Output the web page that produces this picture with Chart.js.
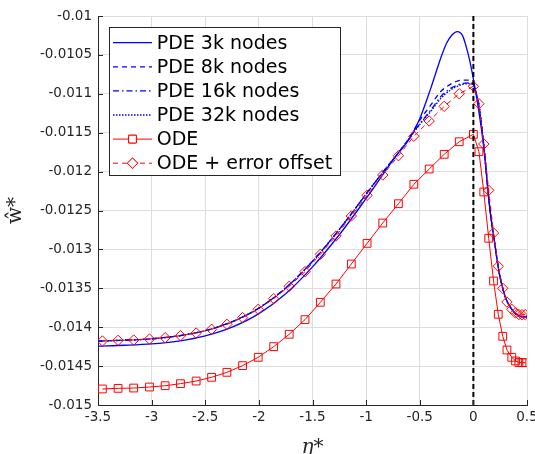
<!DOCTYPE html>
<html>
<head>
<meta charset="utf-8">
<script src="https://cdn.jsdelivr.net/npm/chart.js@4.4.1/dist/chart.umd.min.js"></script>
<style>
  html, body { margin: 0; padding: 0; background: #fff; }
</style>
</head>
<body>
<canvas id="plot" width="535" height="454"></canvas>
<script>
// axis ticks
const xTicks = [-3.5, -3, -2.5, -2, -1.5, -1, -0.5, 0, 0.5];
const xTickLabels = ["-3.5", "-3", "-2.5", "-2", "-1.5", "-1", "-0.5", "0", "0.5"];
const yTicks = [-0.015, -0.0145, -0.014, -0.0135, -0.013, -0.0125, -0.012, -0.0115, -0.011, -0.0105, -0.01];
const yTickLabels = ["-0.015", "-0.0145", "-0.014", "-0.0135", "-0.013", "-0.0125", "-0.012", "-0.0115", "-0.011", "-0.0105", "-0.01"];

// PDE solutions (eta grid shared by all four meshes)
const pdeEta = [-3.5, -3.25, -3, -2.75, -2.5, -2.25, -2, -1.75, -1.5, -1.25, -1, -0.9, -0.8, -0.7, -0.6,
  -0.5, -0.4, -0.3, -0.25, -0.2, -0.15, -0.1, -0.05, -0.025, 0, 0.025, 0.05, 0.075, 0.1, 0.125,
  0.15, 0.175, 0.2, 0.225, 0.25, 0.3, 0.35, 0.4, 0.45, 0.5];
const pde3k = [-0.014242, -0.014232, -0.014215, -0.014178, -0.014112, -0.014000, -0.013826, -0.013570,
  -0.013225, -0.012812, -0.012345, -0.012150, -0.011950, -0.011760, -0.011585, -0.011320, -0.010940,
  -0.010524, -0.010350, -0.010244, -0.010200, -0.010255, -0.010480, -0.010630, -0.010810, -0.011000,
  -0.011215, -0.011455, -0.011735, -0.012085, -0.012435, -0.012700, -0.012928, -0.013170, -0.013364,
  -0.013620, -0.013755, -0.013835, -0.013863, -0.013866];
const pde8k = [-0.014178, -0.014167, -0.014149, -0.014111, -0.014044, -0.013930, -0.013753, -0.013496,
  -0.013153, -0.012743, -0.012289, -0.012108, -0.011932, -0.011760, -0.011570, -0.011340, -0.011150,
  -0.010964, -0.010910, -0.010866, -0.010836, -0.010823, -0.010825, -0.010845, -0.010880, -0.010990,
  -0.011130, -0.011390, -0.011700, -0.012070, -0.012430, -0.012700, -0.012928, -0.013170, -0.013364,
  -0.013620, -0.013755, -0.013835, -0.013863, -0.013866];
const pde16k = [-0.014178, -0.014167, -0.014149, -0.014111, -0.014044, -0.013930, -0.013753, -0.013496,
  -0.013153, -0.012743, -0.012289, -0.012108, -0.011932, -0.011760, -0.011578, -0.011385, -0.011215,
  -0.011030, -0.010968, -0.010920, -0.010890, -0.010866, -0.010860, -0.010865, -0.010885, -0.010990,
  -0.011130, -0.011390, -0.011700, -0.012070, -0.012430, -0.012700, -0.012928, -0.013170, -0.013364,
  -0.013620, -0.013755, -0.013835, -0.013863, -0.013866];
const pde32k = [-0.014178, -0.014167, -0.014149, -0.014111, -0.014044, -0.013930, -0.013753, -0.013496,
  -0.013153, -0.012743, -0.012289, -0.012108, -0.011932, -0.011760, -0.011580, -0.011395, -0.011230,
  -0.011054, -0.010990, -0.010940, -0.010905, -0.010880, -0.010870, -0.010872, -0.010887, -0.010990,
  -0.011130, -0.011390, -0.011700, -0.012070, -0.012430, -0.012700, -0.012928, -0.013170, -0.013364,
  -0.013620, -0.013755, -0.013835, -0.013863, -0.013866];

// ODE solution (markers) and ODE + error offset
const odeEta = [-3.459, -3.313, -3.167, -3.020, -2.874, -2.731, -2.585, -2.441, -2.298, -2.152, -2.006,
  -1.862, -1.717, -1.570, -1.427, -1.281, -1.138, -0.991, -0.845, -0.699, -0.555, -0.412, -0.272,
  -0.132, 0, 0.052, 0.097, 0.143, 0.188, 0.232, 0.274, 0.313, 0.358, 0.393, 0.424, 0.453, 0.484];
const odeW = [-0.014794, -0.014786, -0.014782, -0.014769, -0.014752, -0.014726, -0.014692, -0.014644,
  -0.014580, -0.014494, -0.014387, -0.014250, -0.014091, -0.013903, -0.013680, -0.013445, -0.013188,
  -0.012922, -0.012661, -0.012413, -0.012163, -0.011967, -0.011778, -0.011616, -0.011521, -0.011744,
  -0.012262, -0.012857, -0.013406, -0.013834, -0.014117, -0.014293, -0.014387, -0.014434, -0.014454,
  -0.014456, -0.014456];
const odeOffsetW = [-0.014177, -0.014169, -0.014165, -0.014152, -0.014135, -0.014109, -0.014075, -0.014027,
  -0.013963, -0.013877, -0.013770, -0.013633, -0.013474, -0.013286, -0.013063, -0.012828, -0.012571,
  -0.012305, -0.012044, -0.011796, -0.011546, -0.011350, -0.011161, -0.010999, -0.010904, -0.011127,
  -0.011645, -0.012240, -0.012789, -0.013217, -0.013500, -0.013676, -0.013770, -0.013817, -0.013837,
  -0.013839, -0.013839];

// vertical reference line at eta = 0
const zeroEta = [0, 0];
const zeroW = [-0.015, -0.01];

const pts = (xs, ys) => ys.map((y, i) => ({ x: xs[i], y: y }));

const BLUE = "#0000ff";
const RED = "#ff0000";
const AXIS = "#262626";

// legend drawn inside the axes, MATLAB style
const boxLegend = {
  id: "boxLegend",
  afterDraw(chart) {
    const ctx = chart.ctx;
    const items = chart.data.datasets.filter(d => d.label);
    const x0 = 109.5, y0 = 27.5, w = 231, h = 148;
    ctx.save();
    ctx.fillStyle = "#fff";
    ctx.fillRect(x0, y0, w, h);
    ctx.strokeStyle = AXIS;
    ctx.lineWidth = 1;
    ctx.strokeRect(x0, y0, w, h);
    items.forEach((d, i) => {
      const y = 42.7 + i * 24.1;
      ctx.strokeStyle = d.borderColor;
      ctx.lineWidth = d.borderWidth;
      ctx.setLineDash(d.borderDash || []);
      ctx.beginPath();
      ctx.moveTo(113, y);
      ctx.lineTo(152, y);
      ctx.stroke();
      ctx.setLineDash([]);
      if (d.pointRadius) {
        ctx.fillStyle = "#fff";
        Chart.helpers.drawPoint(ctx, {
          pointStyle: d.pointStyle, radius: d.pointRadius, rotation: 0, borderWidth: 1
        }, 132.5, y);
        ctx.fill();
        ctx.lineWidth = 1;
        ctx.strokeStyle = d.borderColor;
        ctx.stroke();
      }
      ctx.fillStyle = "#000";
      ctx.font = '19px "DejaVu Sans"';
      ctx.textBaseline = "middle";
      ctx.textAlign = "left";
      ctx.fillText(d.label, 156.7, y + 1);
    });
    ctx.restore();
  }
};

// inward tick marks on the left and bottom axes
const innerTicks = {
  id: "innerTicks",
  afterDraw(chart) {
    const { ctx, chartArea, scales } = chart;
    ctx.save();
    ctx.strokeStyle = AXIS;
    ctx.lineWidth = 1;
    ctx.beginPath();
    xTicks.forEach(v => {
      const px = Math.round(scales.x.getPixelForValue(v)) + 0.5;
      ctx.moveTo(px, chartArea.bottom);
      ctx.lineTo(px, chartArea.bottom - 5);
    });
    yTicks.forEach(v => {
      const py = Math.round(scales.y.getPixelForValue(v)) + 0.5;
      ctx.moveTo(chartArea.left, py);
      ctx.lineTo(chartArea.left + 5, py);
    });
    ctx.stroke();
    ctx.restore();
  }
};

const tickFont = { family: "DejaVu Sans", size: 13.5 };

new Chart(document.getElementById("plot").getContext("2d"), {
  type: "line",
  data: {
    datasets: [
      { label: "PDE 3k nodes", data: pts(pdeEta, pde3k), borderColor: BLUE, borderWidth: 1.3,
        pointRadius: 0, cubicInterpolationMode: "monotone", order: 6 },
      { label: "PDE 8k nodes", data: pts(pdeEta, pde8k), borderColor: BLUE, borderWidth: 1.3,
        borderDash: [5, 4], pointRadius: 0, cubicInterpolationMode: "monotone", order: 5 },
      { label: "PDE 16k nodes", data: pts(pdeEta, pde16k), borderColor: BLUE, borderWidth: 1.3,
        borderDash: [6, 3, 1.5, 3], pointRadius: 0, cubicInterpolationMode: "monotone", order: 4 },
      { label: "PDE 32k nodes", data: pts(pdeEta, pde32k), borderColor: BLUE, borderWidth: 1.3,
        borderDash: [1.5, 1.5], pointRadius: 0, cubicInterpolationMode: "monotone", order: 3 },
      { label: "ODE", data: pts(odeEta, odeW), borderColor: RED, borderWidth: 1, tension: 0,
        pointStyle: "rect", pointRadius: 5.5, pointBorderColor: RED, pointBorderWidth: 1,
        pointBackgroundColor: "rgba(0,0,0,0)", order: 2 },
      { label: "ODE + error offset", data: pts(odeEta, odeOffsetW), borderColor: RED, borderWidth: 1,
        borderDash: [5, 4], tension: 0, pointStyle: "rectRot", pointRadius: 5.2, pointBorderColor: RED,
        pointBorderWidth: 1, pointBackgroundColor: "rgba(0,0,0,0)", order: 1 },
      { label: "", data: pts(zeroEta, zeroW), borderColor: "#000", borderWidth: 2,
        borderDash: [5, 3], pointRadius: 0, order: 0 }
    ]
  },
  options: {
    responsive: false,
    animation: false,
    layout: { padding: { top: 16, right: 8, left: 0, bottom: 0 } },
    plugins: {
      legend: { display: false },
      tooltip: { enabled: false }
    },
    scales: {
      x: {
        type: "linear",
        min: -3.5,
        max: 0.5,
        afterBuildTicks: s => { s.ticks = xTicks.map(v => ({ value: v })); },
        afterFit: s => { s.height = 49; s.paddingLeft = 0; s.paddingRight = 0; },
        ticks: {
          autoSkip: false, maxRotation: 0, padding: 4, color: AXIS, font: tickFont,
          callback: (v, i) => xTickLabels[i]
        },
        grid: { color: "#dedede", drawTicks: false },
        border: { display: true, color: AXIS, width: 1 },
        title: {
          display: true, text: "η*", color: AXIS,
          font: { family: "DejaVu Serif", size: 20, style: "italic", lineHeight: 1 },
          padding: { top: 0, bottom: -4 }
        }
      },
      y: {
        type: "linear",
        min: -0.015,
        max: -0.01,
        afterBuildTicks: s => { s.ticks = yTicks.map(v => ({ value: v })); },
        afterFit: s => { s.width = 98; s.paddingTop = 0; s.paddingBottom = 0; },
        ticks: {
          autoSkip: false, padding: 6, color: AXIS, font: tickFont,
          callback: (v, i) => yTickLabels[i]
        },
        grid: { color: "#dedede", drawTicks: false },
        border: { display: true, color: AXIS, width: 1 },
        title: {
          display: true, text: "ŵ*", color: AXIS,
          font: { family: "DejaVu Serif", size: 20, lineHeight: 1 },
          padding: { top: 6, bottom: 0 }
        }
      }
    }
  },
  plugins: [boxLegend, innerTicks]
});
</script>
</body>
</html>
